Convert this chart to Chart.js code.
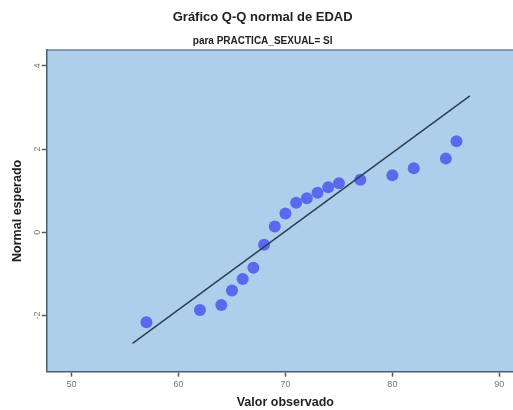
<!DOCTYPE html>
<html>
<head>
<meta charset="utf-8">
<script src="https://cdn.jsdelivr.net/npm/chart.js@4/dist/chart.umd.min.js"></script>
<style>
  html, body { margin: 0; padding: 0; background: #fff; overflow: hidden; }
  canvas { display: block; }
</style>
</head>
<body>
<canvas id="qqChart" width="530" height="410"></canvas>
<script>
// valores observados (EDAD) y normal esperado
const observado = [57, 62, 64, 65, 66, 67, 68, 69, 70, 71, 72, 73, 74, 75, 77, 80, 82, 85, 86];
const esperado  = [-2.16, -1.87, -1.75, -1.40, -1.12, -0.85, -0.30, 0.14, 0.45, 0.71,
                   0.82, 0.95, 1.08, 1.18, 1.26, 1.37, 1.54, 1.77, 2.19];

// recta de referencia (extremos)
const lineaX = [55.7, 87.25];
const lineaY = [-2.67, 3.28];

// marcas de los ejes
const xTicks = [50, 60, 70, 80, 90];
const yTicks = [-2, 0, 2, 4];

const FONT = "'Liberation Sans', Arial, sans-serif";
const AXIS = "#4f5d6b";

// fondo azul del área de trazado + borde superior
const plotBg = {
    id: "plotBg",
    beforeDraw(chart) {
        const { ctx, chartArea: a } = chart;
        ctx.save();
        ctx.fillStyle = "#aecfec";
        ctx.fillRect(a.left, a.top, a.right - a.left, a.bottom - a.top);
        ctx.strokeStyle = "#6f8192";
        ctx.lineWidth = 1.5;
        ctx.beginPath();
        ctx.moveTo(a.left, a.top);
        ctx.lineTo(a.right, a.top);
        ctx.lineTo(a.right, a.bottom);
        ctx.stroke();
        ctx.restore();
    }
};

new Chart(document.getElementById("qqChart"), {
    data: {
        datasets: [
            {
                type: "line",
                data: lineaX.map((x, i) => ({ x, y: lineaY[i] })),
                borderColor: "#2b3f52",
                borderWidth: 1.5,
                pointRadius: 0,
                order: 0
            },
            {
                type: "scatter",
                data: observado.map((x, i) => ({ x, y: esperado[i] })),
                backgroundColor: "#5b69ee",
                borderWidth: 0,
                pointRadius: 6,
                order: 1
            }
        ]
    },
    options: {
        responsive: false,
        animation: false,
        layout: { padding: { top: 0, right: 4.7, bottom: 0, left: 0 } },
        plugins: {
            legend: { display: false },
            tooltip: { enabled: false },
            title: {
                display: true,
                text: "Gráfico Q-Q normal de EDAD",
                color: "#222",
                font: { family: FONT, size: 13, weight: "bold" },
                padding: { top: 9.7, bottom: 5 }
            },
            subtitle: {
                display: true,
                text: "para PRACTICA_SEXUAL= SI",
                color: "#222",
                font: { family: FONT, size: 10, weight: "bold" },
                padding: { top: 4.7, bottom: 3 }
            }
        },
        scales: {
            x: {
                type: "linear",
                min: 47.67,
                max: 92.31,
                afterBuildTicks: s => { s.ticks = xTicks.map(v => ({ value: v })); },
                afterFit: s => { s.height = 38.3; },
                border: { color: AXIS, width: 1.5 },
                grid: { drawOnChartArea: false, tickLength: 5, tickColor: AXIS, tickWidth: 1.5 },
                ticks: { color: "#777", padding: 2, font: { family: FONT, size: 9 } },
                title: {
                    display: true,
                    text: "Valor observado",
                    color: "#222",
                    font: { family: FONT, size: 12.5, weight: "bold" },
                    padding: { top: 0, bottom: 0 }
                }
            },
            y: {
                type: "linear",
                min: -3.35,
                max: 4.38,
                afterBuildTicks: s => { s.ticks = yTicks.map(v => ({ value: v })); },
                afterFit: s => { s.width = 46.7; },
                border: { color: AXIS, width: 1.5 },
                grid: { drawOnChartArea: false, tickLength: 5, tickColor: AXIS, tickWidth: 1.5 },
                ticks: {
                    color: "#777",
                    padding: 0,
                    minRotation: 90,
                    maxRotation: 90,
                    crossAlign: "center",
                    font: { family: FONT, size: 9 }
                },
                title: {
                    display: true,
                    text: "Normal esperado",
                    color: "#222",
                    font: { family: FONT, size: 12.5, weight: "bold" },
                    padding: { top: 10.5, bottom: 0 }
                }
            }
        }
    },
    plugins: [plotBg]
});
</script>
</body>
</html>
